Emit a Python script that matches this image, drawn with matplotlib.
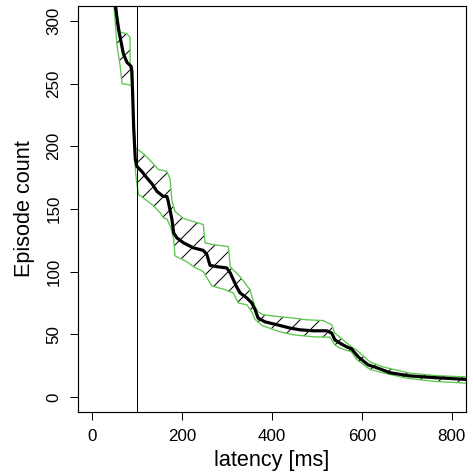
import numpy as np
import matplotlib
matplotlib.use('Agg')
from matplotlib import pyplot as plt

# mean curve
x_mean = [45, 51, 58, 64, 69, 77, 86, 88, 90, 92, 95.5, 99, 110, 121, 133, 144, 151, 158, 166, 169,
          177, 181, 188, 203, 225, 247, 255, 262, 277, 299, 307, 321, 329, 344, 355, 362, 369, 384,
          418, 440, 462, 492, 522, 533, 540, 551, 566, 577, 592, 614, 636, 662, 707, 758, 832]
y_mean = [345, 313, 294, 283, 274, 267, 264, 260, 238, 215, 190, 184, 180, 175, 170, 164, 162, 160, 160, 156,
          142, 131, 127, 123, 119, 117, 113.6, 105, 104, 103, 99, 88, 83, 79, 75, 70, 63, 60,
          57, 55, 53.6, 52.8, 52.8, 51, 45.6, 43, 40, 38.4, 32, 25.6, 23, 19.4, 16.8, 15.5, 14]

# upper bound of band
x_up = [45, 50, 55, 62, 76, 84, 84, 88, 89.3, 95.5, 114, 129, 147, 166, 173, 177, 184, 203, 225, 247,
        251, 269, 303, 307, 329, 351, 362, 369, 380, 418, 447, 477, 514, 533, 540, 558, 577, 588,
        618, 647, 707, 766, 832]
y_up = [345, 330, 305, 291, 290, 287, 264, 249, 246, 199, 194, 188.6, 181.6, 180, 174, 157, 148, 142.5, 140, 137.6,
        123, 121.6, 120, 104, 96, 85.6, 72, 68, 65.6, 64, 63, 61.6, 61, 57.6, 51, 45.6, 40, 37.6,
        28, 24, 19, 17, 16]

# lower bound of band
x_lo = [45, 48, 55, 62, 66, 84, 88, 89.3, 94, 96, 99, 103, 118, 136, 151, 158, 166, 175, 181, 184,
        210, 225, 247, 266, 292, 314, 325, 344, 355, 362, 378, 418, 447, 492, 529, 540, 551, 577,
        588, 618, 650, 700, 760, 832]
y_lo = [345, 312, 280, 264, 250, 249, 248, 246, 200, 180, 170, 161.6, 157.6, 152.6, 147, 143, 142, 135, 125.6, 112.6,
        108, 104, 100, 88.6, 86, 83, 75, 73.6, 68, 62, 57, 52, 49.6, 48, 47.7, 41.6, 39, 36,
        30, 22, 19, 15, 12.5, 11]

xticks = [0, 200, 400, 600, 800]
yticks = [0, 50, 100, 150, 200, 250, 300]
cutoff = 100
green = '#5cc84e'

plt.rcParams['font.family'] = ['Liberation Sans', 'DejaVu Sans']
plt.rcParams['hatch.linewidth'] = 0.6

fig = plt.figure(figsize=(473/120, 475/120), dpi=120)
ax = fig.add_axes([78/473, 1-412/475, 388/473, 406/475])

# hatched band, then green outline
bx = np.concatenate([x_up, x_lo[::-1]])
by = np.concatenate([y_up, y_lo[::-1]])
ax.fill(bx, by, facecolor='none', edgecolor='black', hatch='//', linewidth=0)
ax.plot(x_up, y_up, color=green, lw=0.8)
ax.plot(x_lo, y_lo, color=green, lw=0.8)
ax.plot(x_mean, y_mean, color='black', lw=1.9, solid_joinstyle='round')
ax.axvline(cutoff, color='black', lw=0.6)

ax.set_xlim(-32, 832)
ax.set_ylim(-12, 312)
ax.set_xticks(xticks)
ax.set_yticks(yticks)
ax.set_yticklabels([str(v) for v in yticks], rotation=90, va='center')
ax.tick_params(direction='out', length=5, width=0.6, labelsize=10.2, pad=5)
for s in ax.spines.values():
    s.set_linewidth(0.7)
ax.set_xlabel('latency [ms]', fontsize=13, labelpad=4)
ax.set_ylabel('Episode count', fontsize=13, labelpad=7)

fig.savefig('out.png', dpi=120)
